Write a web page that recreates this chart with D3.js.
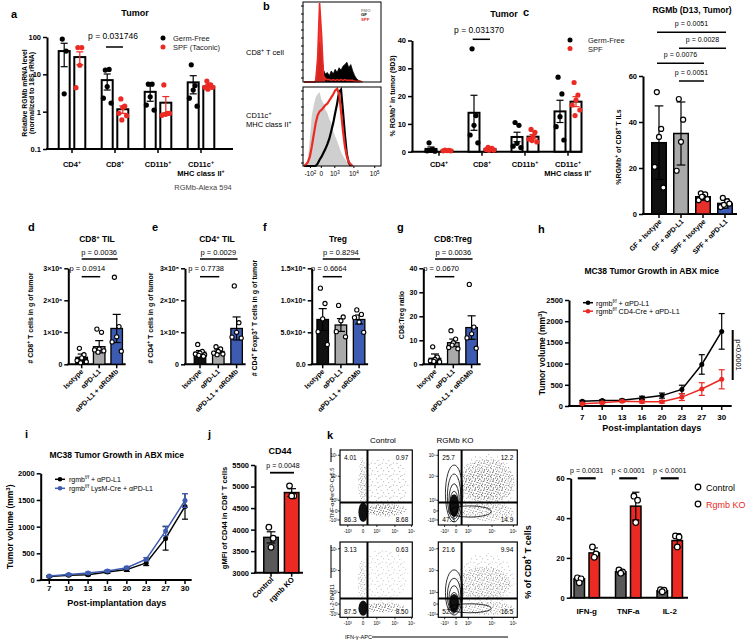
<!DOCTYPE html>
<html><head><meta charset="utf-8">
<script src="https://cdn.jsdelivr.net/npm/d3@7"></script>
<style>body{margin:0;background:#fff}svg{display:block}</style>
</head><body><svg id="fig" width="750" height="643"></svg>
<script>
// ---------------- DATA ----------------
// a
const aCats=["CD4{+}","CD8{+}","CD11b{+}","CD11c{+}"];
const aTickVals=[0.1,1,10,100];
const aTickLabels=["0.1","1","10","100"];
const aGFMean=[42,7.0,3.4,6.1];
const aGFErr=[26,3.2,1.5,3.1];
const aGFDots=[[88,42,3],[13,13.5,4.7,2.3,1.7],[5.5,5.5,2.5,1.5,1.1],[18,5,3.8,2.3,1.4]];
const aSPFMean=[29,1.16,1.74,4.7];
const aSPFErr=[11,0.26,0.8,0.7];
const aSPFDots=[[52,52,17.5,4.4],[2.2,1.4,1.3,0.9,0.78,0.6],[5.2,0.9,0.85,0.8,0.9],[6.6,5.2,5.2,4.5,4.5,4.0]];
// b histograms (relative counts per bin)
const histTopFMO=[0,0,0,0,0,0,5,40,60,55,20,5,2];
const histTopGF=[0,0,0,0,0,0,0,20,50,35,15,10,12,8,14,10,16,12,18,15,20,22,25,18,22,14,8,4,2,1];
const histTopSPF=[0,0,0,0,0,0,1,30,100,60,8,4,3,3,2,3,2,3,2,3,2,3,2,2,2,2,1,1,1,1,0];
const histBotFMO=[0,2,10,35,65,78,88,92,95,85,80,72,68,60,55,45,38,32,25,18,13,9,5,2,0];
const histBotGF=[0,0,0,0,0,0,0,3,8,12,17,22,28,35,45,55,68,80,95,98,70,40,15,4,0];
const histBotSPF=[0,2,5,12,25,40,55,65,70,72,75,78,80,84,88,92,97,99,93,70,45,25,12,5,2,0];
const histTicks=["-10{2}","0","10{3}","10{4}","10{5}"];
// b right
const bTicks=[0,10,20,30,40];
const bGFMean=[1.0,14,5.3,14.5];
const bGFErr=[0.7,6.3,1.7,4];
const bGFDots=[[3.2,0.8,0.5,0.3,0.2],[37,13,9.5,6,3.2],[10.5,9.5,3,2,1.5],[26.8,20.8,12.6,9,4.2]];
const bSPFMean=[0.4,1.0,5.4,18];
const bSPFErr=[0.1,0.3,0.8,1.8];
const bSPFDots=[[0.6,0.5,0.4,0.3,0.3],[1.6,1.2,1.0,0.8,0.6,0.5],[8,7,5.5,4.5,3.5,4],[24.9,20.4,18.6,16.8,15,13]];
// c
const cCats=["GF + Isotype","GF + αPD-L1","SPF + Isotype","SPF + αPD-L1"];
const cTicks=[0,20,40,60];
const cMean=[31,35,7.5,4.6];
const cErr=[16,13.7,1.5,2];
const cDots=[[53,37,33.5,20.5,11.5],[50,41,31.4,18.8],[9,8.5,7.5,6,6.5,7.5],[7,5.5,3.5,3,4.5,4]];
const cSig=[[0,3,"p = 0.0051"],[1,3,"p = 0.0028"],[0,2,"p = 0.0076"],[1,2,"p = 0.0051"]];
// d-g
const tCats=["Isotype","αPD-L1","αPD-L1 + αRGMb"];
const dTicks=[0,1e6,2e6,3e6], dTickLabels=["0","1×10⁶","2×10⁶","3×10⁶"];
const dMean=[0.22e6,0.55e6,1.12e6];
const dErr=[0.1e6,0.19e6,0.44e6];
const dDots=[[0.5e6,0.3e6,0.2e6,0.12e6,0.08e6,0.05e6],[1.1e6,1.0e6,0.48e6,0.45e6,0.42e6,0.38e6],[2.72e6,1.18e6,0.86e6,0.7e6,0.41e6]];
const dSig=["p = 0.0036","p = 0.0914"];
const eTicks=[0,1e5,2e5,3e5], eTickLabels=["0","1×10⁵","2×10⁵","3×10⁵"];
const eMean=[0.38e5,0.4e5,1.12e5];
const eErr=[0.05e5,0.05e5,0.36e5];
const eDots=[[0.62e5,0.4e5,0.35e5,0.32e5,0.3e5,0.28e5,0.25e5],[0.55e5,0.48e5,0.4e5,0.35e5,0.32e5,0.3e5],[2.45e5,1.3e5,1.0e5,0.85e5,0.82e5]];
const eSig=["p = 0.0029","p = 0.7738"];
const fTicks=[0,5e4,1e5,1.5e5], fTickLabels=["0.0","5.0×10⁴","1.0×10⁵","1.5×10⁵"];
const fMean=[7.0e4,6.14e4,7.0e4];
const fErr=[1.7e4,1.0e4,0.7e4];
const fDots=[[11.9e4,9.5e4,7.1e4,5.1e4,3.1e4],[9.2e4,7.4e4,6.8e4,5.1e4,4.3e4],[8.5e4,7.8e4,6.6e4,7.3e4,5.0e4]];
const fSig=["p = 0.8294","p = 0.6664"];
const gTicks=[0,10,20,30,40], gTickLabels=["0","10","20","30","40"];
const gMean=[2.5,9.0,15.3];
const gErr=[1.8,1.5,4.9];
const gDots=[[7.3,3,2,1.5,1,1.2],[14,10.5,9,7,6.5,8],[33.3,15.5,12.7,11,6.7]];
const gSig=["p = 0.0036","p = 0.0670"];
// h, i
const days=[7,10,13,16,20,23,27,30];
const hTicks=[0,500,1000,1500,2000,2500];
const hCtrl=[110,130,135,190,245,390,980,1760];
const hCtrlErr=[20,20,25,40,60,100,230,420];
const hCre=[55,75,110,100,100,210,400,630];
const hCreErr=[15,20,20,30,30,80,150,225];
const iTicks=[0,500,1000,1500,2000];
const iCtrl=[65,90,100,150,195,320,780,1380];
const iCtrlErr=[15,15,20,25,35,50,220,240];
const iCre=[75,105,130,170,230,390,920,1490];
const iCreErr=[10,15,20,20,25,30,90,130];
// j
const jCats=["Control","rgmb KO"];
const jTicks=[3000,3500,4000,4500,5000,5500];
const jMean=[3820,4860];
const jErr=[130,90];
const jDots=[[4056,3800,3590],[5016,4783,4783]];
// k
const kCats=["IFN-g","TNF-a","IL-2"];
const kTicks=[0,20,40,60];
const kCtrlMean=[9.5,13,3.5], kCtrlErr=[1,1,0.5];
const kCtrlDots=[[10,9.5,7.5],[14,13,12.3],[4,3.8,3]];
const kKOMean=[22.5,46,28.7], kKOErr=[2.5,7,3.5];
const kKODots=[[25.5,22,20.3],[51,49,37.8],[31,30.5,25.5]];
const kP=["p = 0.0031","p < 0.0001","p < 0.0001"];
const flowQuads=[["4.01","0.97","86.3","8.68"],["25.7","12.2","47.3","14.9"],["3.13","0.63","87.5","8.50"],["21.6","9.94","52.0","16.5"]];
const flowTicks=["-10³","0","10³","10⁴","10⁵"];

// ---------------- HELPERS ----------------
const FF='"Liberation Sans", Arial, Helvetica, sans-serif';
const RED='#ec2a24', BLUE='#3d5bb0', LGRAY='#a9a9a9', DGRAY='#595959';
const svg=d3.select('#fig');
svg.append('rect').attr('width',750).attr('height',643).attr('fill','#fff');

function T(g,x,y,s,o={}){
  const size=o.size||7.5;
  const t=g.append('text').attr('x',x).attr('y',y).attr('font-family',FF)
    .attr('font-size',size).attr('font-weight',o.bold?'bold':'normal')
    .attr('text-anchor',o.anchor||'start').attr('fill',o.fill||'#000');
  if(o.rotate) t.attr('transform',`rotate(${o.rotate},${x},${y})`);
  let up=false;
  String(s).split(/(\{[^}]*\})/).forEach(p=>{
    if(!p) return;
    if(p[0]==='{'){ t.append('tspan').attr('dy',-size*0.38).attr('font-size',size*0.7).text(p.slice(1,-1)); up=true; }
    else { const ts=t.append('tspan').text(p); if(up){ ts.attr('dy',size*0.38); up=false; } }
  });
  return t;
}
function yAxis(g,x,y,vals,labels,o={}){
  const ts=o.ts??4;
  const ax=d3.axisLeft(y).tickValues(vals).tickFormat((d,i)=>labels[i]).tickSize(ts).tickSizeOuter(0);
  const a=g.append('g').attr('transform',`translate(${x},0)`).call(ax)
    .attr('font-family',FF).attr('font-size',o.fs||7.5).attr('font-weight','bold');
  a.select('.domain').attr('stroke-width',o.sw||2).attr('stroke','#000');
  a.selectAll('.tick line').attr('stroke-width',o.tw||1.5);
  a.selectAll('.tick text').attr('x',-ts-2);
  return a;
}
function xBase(g,x0,x1,yy,ticks,sw=2){
  g.append('line').attr('x1',x0-1).attr('x2',x1).attr('y1',yy).attr('y2',yy).attr('stroke','#000').attr('stroke-width',sw);
  ticks.forEach(t=>g.append('line').attr('x1',t).attr('x2',t).attr('y1',yy).attr('y2',yy+4).attr('stroke','#000').attr('stroke-width',1.5));
}
function L(g,x1,y1,x2,y2,c='#000',w=1.5){
  return g.append('line').attr('x1',x1).attr('y1',y1).attr('x2',x2).attr('y2',y2).attr('stroke',c).attr('stroke-width',w);
}
const JIT=[-0.5,0.5,0,-1,1,-0.25,0.75];
function barSet(g,y,cx,w,mean,err,dots,st){
  const b=y.domain()[0];
  g.append('rect').attr('x',cx-w/2).attr('y',y(mean)).attr('width',w).attr('height',y(b)-y(mean))
    .attr('fill',st.fill).attr('stroke','#000').attr('stroke-width',st.sw||1.5);
  const lo=Math.max(mean-err,b);
  const ec=st.ec||'#000', ew=st.ew||1.2, cw=w*(st.cap||0.32);
  L(g,cx,y(mean+err),cx,y(lo),ec,ew);
  L(g,cx-cw,y(mean+err),cx+cw,y(mean+err),ec,ew);
  if(mean-err>b) L(g,cx-cw,y(mean-err),cx+cw,y(mean-err),ec,ew);
  dots.forEach((v,i)=>g.append('circle').attr('cx',cx+JIT[i%JIT.length]*w*(st.jit||0.35)).attr('cy',y(v))
    .attr('r',st.r||2.4).attr('fill',st.dfill).attr('stroke',st.dstroke||'none').attr('stroke-width',st.dsw||1));
}

// ---------------- PANEL LETTERS ----------------
[["a",11,18],["b",263,10],["c",523,16],["d",28,231],["e",152,231],["f",263,231],["g",397,231],["h",538,233],["i",25,438],["j",208,438],["k",327,439]]
 .forEach(p=>T(svg,p[1],p[2],p[0],{bold:true,size:11}));

// ---------------- PANEL a ----------------
(function(){
  const g=svg.append('g');
  const y=d3.scaleLog().domain([0.1,100]).range([149,37]);
  const x=d3.scaleBand().domain(aCats).range([50.5,222.5]);
  const C=c=>x(c)+x.bandwidth()/2;
  yAxis(g,47,y,aTickVals,aTickLabels,{fs:7.5});
  xBase(g,47,233,149,aCats.map(C));
  aCats.forEach((c,i)=>{
    barSet(g,y,C(c)-7.8,11,aGFMean[i],aGFErr[i],aGFDots[i],{fill:'#fff',sw:2,ec:'#000',dfill:'#000',r:2.6});
    barSet(g,y,C(c)+7.8,11,aSPFMean[i],aSPFErr[i],aSPFDots[i],{fill:'#fff',sw:2,ec:RED,dfill:RED,r:2.6});
    T(g,C(c),166.5,c,{anchor:'middle',bold:true,size:7.5});
  });
  T(g,C(aCats[3]),176,"MHC class II{+}",{anchor:'middle',bold:true,size:7.5});
  T(g,203,190,"RGMb-Alexa 594",{anchor:'middle',size:7.5,fill:'#444'});
  T(g,135,16,"Tumor",{anchor:'middle',bold:true,size:9});
  T(g,113,38.5,"p = 0.031746",{anchor:'middle',size:8.5});
  L(g,106,47,123,47,'#000',1.5);
  g.append('circle').attr('cx',163).attr('cy',38).attr('r',2.5).attr('fill','#000');
  g.append('circle').attr('cx',163).attr('cy',47).attr('r',2.5).attr('fill',RED);
  T(g,173,41,"Germ-Free",{size:7.5,fill:'#222'});
  T(g,173,50,"SPF (Taconic)",{size:7.5,fill:'#222'});
  T(g,26.5,93,"Relative RGMb mRNA level",{anchor:'middle',bold:true,size:6.8,rotate:-90});
  T(g,33.5,93,"(normalized to 18S rRNA)",{anchor:'middle',bold:true,size:6.8,rotate:-90});
})();

// ---------------- PANEL b histograms ----------------
(function(){
  const g=svg.append('g');
  const hx=d3.scaleLinear().domain([0,39]).range([304,380]);
  const yT=d3.scaleLinear().domain([0,100]).range([82,3]);
  const yB=d3.scaleLinear().domain([0,100]).range([166,88]);
  const area=(y,arr)=>d3.area().x((d,i)=>hx(i)).y0(y(0)).y1(d=>y(d)).curve(d3.curveLinear)(arr);
  const line=(y,arr)=>d3.line().x((d,i)=>hx(i)).y(d=>y(d)).curve(d3.curveLinear)(arr);
  g.append('path').attr('d',area(yT,histTopFMO)).attr('fill','#c9c9c9');
  g.append('path').attr('d',area(yT,histTopGF)).attr('fill','#000').attr('stroke','#000').attr('stroke-width',0.8);
  g.append('path').attr('d',line(yT,histTopSPF)).attr('fill','none').attr('stroke',RED).attr('stroke-width',1.6);
  g.append('path').attr('d',area(yT,histTopSPF.slice(0,12))).attr('fill',RED).attr('opacity',0.9);
  g.append('path').attr('d',area(yB,histBotFMO)).attr('fill','#cfcfcf');
  g.append('path').attr('d',line(yB,histBotGF)).attr('fill','none').attr('stroke','#000').attr('stroke-width',2.2);
  g.append('path').attr('d',line(yB,histBotSPF)).attr('fill','none').attr('stroke',RED).attr('stroke-width',2.2);
  [[2,82],[87,166]].forEach(r=>{
    g.append('rect').attr('x',303).attr('y',r[0]).attr('width',78).attr('height',r[1]-r[0]).attr('fill','none').attr('stroke','#000').attr('stroke-width',1);
    for(let yy=r[0]+4;yy<r[1];yy+=8) L(g,301,yy,303.5,yy,'#000',1);
  });
  const tickPos=[3.3,8.9,15.8,25.6,36.3];
  histTicks.forEach((t,i)=>{ L(g,hx(tickPos[i]),166,hx(tickPos[i]),168,'#000',1); T(g,hx(tickPos[i]),176,t,{anchor:'middle',size:6.5}); });
  T(g,361,11.5,"FMO",{size:4.3,bold:true,fill:'#999'});
  T(g,361,16.3,"GF",{size:4.3,bold:true,fill:'#000'});
  T(g,361,21.1,"SPF",{size:4.3,bold:true,fill:RED});
  T(g,246,55,"CD8{+} T cell",{size:7.5});
  T(g,246,118,"CD11c{+}",{size:7.5});
  T(g,246,127,"MHC class II{+}",{size:7.5});
})();

// ---------------- PANEL b right ----------------
(function(){
  const g=svg.append('g');
  const y=d3.scaleLinear().domain([0,40]).range([151.7,40.5]);
  const x=d3.scaleBand().domain(aCats).range([417.5,589.5]);
  const C=c=>x(c)+x.bandwidth()/2;
  yAxis(g,412,y,bTicks,bTicks.map(String),{fs:7.5});
  xBase(g,412,582,151.7,aCats.map(C));
  aCats.forEach((c,i)=>{
    barSet(g,y,C(c)-8,11,bGFMean[i],bGFErr[i],bGFDots[i],{fill:'#fff',sw:2,ec:'#000',dfill:'#000',r:2.6});
    barSet(g,y,C(c)+8,11,bSPFMean[i],bSPFErr[i],bSPFDots[i],{fill:'#fff',sw:2,ec:RED,dfill:RED,r:2.6});
    T(g,C(c),166.5,c,{anchor:'middle',bold:true,size:7.5});
  });
  T(g,C(aCats[3]),176,"MHC class II{+}",{anchor:'middle',bold:true,size:7.5});
  T(g,504,16.5,"Tumor",{anchor:'middle',bold:true,size:9});
  T(g,479,32.7,"p = 0.031370",{anchor:'middle',size:8.5});
  L(g,472.7,39.3,490,39.3,'#000',1.5);
  g.append('circle').attr('cx',570).attr('cy',40).attr('r',2.5).attr('fill','#000');
  g.append('circle').attr('cx',570).attr('cy',48.5).attr('r',2.5).attr('fill',RED);
  T(g,588,43,"Germ-Free",{size:7.5,fill:'#222'});
  T(g,588,51.5,"SPF",{size:7.5,fill:'#222'});
  T(g,394.5,96,"% RGMb{+} in tumor (9D3)",{anchor:'middle',bold:true,size:7,rotate:-90});
})();

// ---------------- PANEL c ----------------
(function(){
  const g=svg.append('g');
  const y=d3.scaleLinear().domain([0,60]).range([214,76]);
  const x=d3.scaleBand().domain(cCats).range([648,736]);
  const C=c=>x(c)+x.bandwidth()/2;
  const fills=['#111',LGRAY,'#e8302a','#3b5bb5'];
  yAxis(g,643,y,cTicks,cTicks.map(String),{fs:7.5});
  xBase(g,643,737,214,cCats.map(C));
  cCats.forEach((c,i)=>{
    barSet(g,y,C(c),14.5,cMean[i],cErr[i],cDots[i],{fill:fills[i],sw:1.5,ec:'#000',dfill:'#fff',dstroke:'#000',dsw:1.2,r:2.5,cap:0.3,jit:0.3});
    T(g,C(c)+3,222,c,{anchor:'end',bold:true,size:7,rotate:-45});
  });
  const lineY=[32.3,48.3,63.3,81], labY=[26,41.5,57,74.5];
  cSig.forEach((s,k)=>{
    const x1=C(cCats[s[0]])-2, x2=C(cCats[s[1]])+1;
    L(g,x1,lineY[k],x2,lineY[k],'#000',1.5);
    T(g,(x1+x2)/2,labY[k],s[2],{anchor:'middle',size:7});
  });
  T(g,692,13.3,"RGMb (D13, Tumor)",{anchor:'middle',bold:true,size:8.5});
  T(g,620.5,147,"%RGMb{+} of CD8{+} T ILs",{anchor:'middle',bold:true,size:7,rotate:-90});
})();

// ---------------- PANELS d-g ----------------
function tilPanel(cfg){
  const g=svg.append('g');
  const y=d3.scaleLinear().domain([0,cfg.ymax]).range([364.3,268.3]);
  const x=d3.scaleBand().domain(tCats).range([cfg.first-cfg.step/2,cfg.first+cfg.step*2.5]);
  const C=c=>x(c)+x.bandwidth()/2;
  const fills=['#111',LGRAY,BLUE];
  yAxis(g,cfg.ax,y,cfg.ticks,cfg.labels,{fs:7});
  xBase(g,cfg.ax,C(tCats[2])+9,364.3,tCats.map(C));
  tCats.forEach((c,i)=>{
    barSet(g,y,C(c),11.5,cfg.mean[i],cfg.err[i],cfg.dots[i],{fill:fills[i],sw:1.3,ec:'#000',dfill:'#fff',dstroke:'#000',dsw:1.1,r:2.1,cap:0.35,jit:0.4});
    T(g,C(c)+2,372,c,{anchor:'end',bold:true,size:7,rotate:-45});
  });
  const c0=C(tCats[0]);
  L(g,c0,259,C(tCats[2])+1,259,'#000',1.5);
  T(g,(c0+C(tCats[2]))/2,255,cfg.sig[0],{anchor:'middle',size:7.5});
  L(g,c0,276.7,C(tCats[1])+1,276.7,'#000',1.5);
  T(g,(c0+C(tCats[1]))/2-3,270.7,cfg.sig[1],{anchor:'middle',size:7.5});
  T(g,cfg.tx,242,cfg.title,{anchor:'middle',bold:true,size:8.5});
  T(g,cfg.ylx,cfg.yly||318,cfg.ylab,{anchor:'middle',bold:true,size:7,rotate:-90});
}
tilPanel({ax:68.3,first:81.7,step:17.5,ymax:3e6,ticks:dTicks,labels:dTickLabels,mean:dMean,err:dErr,dots:dDots,sig:dSig,title:"CD8{+} TIL",tx:97,ylab:"# CD8{+} T cells in g of tumor",ylx:32.5});
tilPanel({ax:185,first:200,step:18.3,ymax:3e5,ticks:eTicks,labels:eTickLabels,mean:eMean,err:eErr,dots:eDots,sig:eSig,title:"CD4{+} TIL",tx:217,ylab:"# CD4{+} T cells in g of tumor",ylx:152.5});
tilPanel({ax:311.7,first:322.7,step:18.2,ymax:1.5e5,ticks:fTicks,labels:fTickLabels,mean:fMean,err:fErr,dots:fDots,sig:fSig,title:"Treg",tx:338,ylab:"# CD4{+} Foxp3{+} T cells in g of tumor",ylx:256.5});
tilPanel({ax:423.3,first:435,step:18.3,ymax:40,ticks:gTicks,labels:gTickLabels,mean:gMean,err:gErr,dots:gDots,sig:gSig,title:"CD8:Treg",tx:453,ylab:"CD8:Treg ratio",ylx:404,yly:315});

// ---------------- PANELS h, i ----------------
function growth(cfg){
  const g=svg.append('g');
  const x=d3.scalePoint().domain(days).range(cfg.xr);
  const y=d3.scaleLinear().domain([0,cfg.ticks[cfg.ticks.length-1]]).range(cfg.yr);
  yAxis(g,cfg.ax,y,cfg.ticks,cfg.ticks.map(String),{fs:7.5});
  xBase(g,cfg.ax,cfg.axEnd,cfg.yr[0],days.map(d=>x(d)));
  days.forEach(d=>T(g,x(d),cfg.yr[0]+cfg.lab,String(d),{anchor:'middle',bold:true,size:8}));
  cfg.series.forEach(s=>{
    s.v.forEach((v,i)=>{
      const xx=x(days[i]);
      L(g,xx,y(v+s.e[i]),xx,y(Math.max(0,v-s.e[i])),s.c,1.2);
      L(g,xx-3,y(v+s.e[i]),xx+3,y(v+s.e[i]),s.c,1.2);
      L(g,xx-3,y(Math.max(0,v-s.e[i])),xx+3,y(Math.max(0,v-s.e[i])),s.c,1.2);
    });
    g.append('path').datum(s.v).attr('d',d3.line().x((d,i)=>x(days[i])).y(d=>y(d))).attr('fill','none').attr('stroke',s.c).attr('stroke-width',1.5);
    s.v.forEach((v,i)=>g.append('circle').attr('cx',x(days[i])).attr('cy',y(v)).attr('r',2.5).attr('fill',s.c));
  });
  cfg.series.forEach((s,k)=>{
    const ly=cfg.leg[1]+k*cfg.leg[3];
    L(g,cfg.leg[0]-5,ly,cfg.leg[0]+5,ly,s.c,1.5);
    g.append('circle').attr('cx',cfg.leg[0]).attr('cy',ly).attr('r',2.3).attr('fill',s.c);
    T(g,cfg.leg[2],ly+2.8,s.name,{size:cfg.legSize});
  });
  T(g,cfg.tx,cfg.ty,"MC38 Tumor Growth in ABX mice",{anchor:'middle',bold:true,size:8.5});
  T(g,cfg.tx,cfg.xty,"Post-implantation days",{anchor:'middle',bold:true,size:9});
  T(g,cfg.ylx,cfg.yly,"Tumor volume (mm{3})",{anchor:'middle',bold:true,size:8.5,rotate:-90});
  return g;
}
(function(){
  const g=growth({xr:[582.3,721.7],yr:[406,300],ax:569,axEnd:731.7,ticks:hTicks,lab:14,
    series:[{v:hCtrl,e:hCtrlErr,c:'#000',name:"rgmb{f/f} + αPD-L1"},{v:hCre,e:hCreErr,c:RED,name:"rgmb{f/f} CD4-Cre + αPD-L1"}],
    leg:[588,302.7,596,8.5],legSize:7.2,tx:651.7,ty:274.3,xty:431,ylx:545,yly:353});
  L(g,732.7,330,732.7,380,'#000',2);
  T(g,736,355,"p<0.0001",{anchor:'middle',size:7.5,rotate:90});
})();
growth({xr:[49.3,185],yr:[580,473.3],ax:40.7,axEnd:191.7,ticks:iTicks,lab:10.5,
  series:[{v:iCtrl,e:iCtrlErr,c:'#000',name:"rgmb{f/f} + αPD-L1"},{v:iCre,e:iCreErr,c:BLUE,name:"rgmb{f/f} LysM-Cre + αPD-L1"}],
  leg:[60,479.3,69,9],legSize:7,tx:116.7,ty:458.3,xty:606,ylx:13,yly:526.7});

// ---------------- PANEL j ----------------
(function(){
  const g=svg.append('g');
  const y=d3.scaleLinear().domain([3000,5500]).range([572.7,465]);
  const x=d3.scaleBand().domain(jCats).range([260.7,302]);
  const C=c=>x(c)+x.bandwidth()/2;
  yAxis(g,255,y,jTicks,jTicks.map(String),{fs:7.5});
  xBase(g,255,303,572.7,jCats.map(C));
  const fills=[DGRAY,RED];
  jCats.forEach((c,i)=>{
    barSet(g,y,C(c),14.5,jMean[i],jErr[i],jDots[i],{fill:fills[i],sw:1.5,ec:'#000',dfill:'#fff',dstroke:'#000',dsw:1.2,r:2.8,cap:0.3,jit:0.3});
    T(g,C(c)+3,580,c,{anchor:'end',bold:true,size:7.5,rotate:-45});
  });
  L(g,270,472.7,294,472.7,'#000',1.8);
  T(g,283,467.7,"p = 0.0048",{anchor:'middle',size:7});
  T(g,280,454,"CD44",{anchor:'middle',bold:true,size:9});
  T(g,226.5,518,"gMFI of CD44 in CD8{+} T cells",{anchor:'middle',bold:true,size:7.5,rotate:-90});
})();

// ---------------- PANEL k flow ----------------
(function(){
  const g=svg.append('g');
  const defs=svg.append('defs');
  const p1=defs.append('pattern').attr('id','spk').attr('width',9).attr('height',9).attr('patternUnits','userSpaceOnUse');
  [[0.6,0.9],[2.7,2.1],[1.5,3.4],[5.2,0.7],[7.6,1.8],[4.1,3.9],[6.8,4.6],[0.9,5.6],[3.0,6.3],[5.6,6.9],[8.1,7.4],[1.9,8.2],[4.5,8.5],[7.2,3.1]]
    .forEach(d=>p1.append('circle').attr('cx',d[0]).attr('cy',d[1]).attr('r',0.5).attr('fill','#555'));
  const p2=defs.append('pattern').attr('id','spk2').attr('width',11).attr('height',11).attr('patternUnits','userSpaceOnUse');
  [[1,1.5],[4.6,3.2],[2.5,5.8],[8.3,0.9],[7.1,6.4],[9.6,8.8],[3.8,9.4],[6,2.2]]
    .forEach(d=>p2.append('circle').attr('cx',d[0]).attr('cy',d[1]).attr('r',0.5).attr('fill','#666'));
  const boxes=[{x0:340,x1:412.3,y0:450,y1:525,gx:0.38,gy:0.30,xt:[0.107,0.32,0.51,0.76,0.99]},
               {x0:438.3,x1:517.3,y0:450,y1:525,gx:0.295,gy:0.30,xt:[0.08,0.225,0.38,0.68,0.95]},
               {x0:340,x1:412.3,y0:542,y1:617.3,gx:0.38,gy:0.25,xt:[0.107,0.32,0.51,0.76,0.99]},
               {x0:438.3,x1:517.3,y0:542,y1:617.3,gx:0.295,gy:0.25,xt:[0.08,0.225,0.38,0.68,0.95]}];
  const ytTop=[0.067,0.187,0.33,0.65,0.93], ytBot=[0.04,0.175,0.33,0.62,0.91];
  const clouds=[
    [[0.6,0.55,0.35,0.35,'spk2',0.7],[0.63,0.2,0.3,0.085,'spk',1],[0.58,0.2,0.2,0.06,'spk',0.8],[0.31,0.55,0.055,0.35,'spk',0.75]],
    [[0.62,0.58,0.34,0.3,'spk',0.9],[0.58,0.55,0.25,0.2,'spk',0.7],[0.6,0.55,0.37,0.4,'spk2',0.7],[0.63,0.17,0.33,0.12,'spk',0.85]],
    [[0.6,0.55,0.35,0.35,'spk2',0.5],[0.6,0.13,0.3,0.065,'spk',1],[0.55,0.13,0.18,0.05,'spk',0.8],[0.3,0.45,0.05,0.3,'spk',0.6]],
    [[0.58,0.45,0.33,0.22,'spk',0.8],[0.6,0.5,0.37,0.35,'spk2',0.6],[0.63,0.12,0.33,0.09,'spk',0.85]]];
  const blobs=[[0.32,0.17,0.065,0.13],[0.2,0.26,0.06,0.15],[0.32,0.12,0.065,0.1],[0.2,0.19,0.06,0.12]];
  const contours=[[],
    [[0.2,0.42,0.11,0.38],[0.2,0.38,0.085,0.3],[0.2,0.33,0.065,0.22],[0.2,0.3,0.05,0.15],[0.4,0.18,0.27,0.075]],
    [],
    [[0.2,0.33,0.11,0.3],[0.2,0.29,0.085,0.23],[0.2,0.25,0.065,0.17],[0.2,0.22,0.05,0.11],[0.4,0.12,0.27,0.06]]];
  boxes.forEach((b,k)=>{
    const sx=d3.scaleLinear().domain([0,1]).range([b.x0,b.x1]);
    const sy=d3.scaleLinear().domain([0,1]).range([b.y1,b.y0]);
    const cid='clipk'+k;
    defs.append('clipPath').attr('id',cid).append('rect').attr('x',b.x0).attr('y',b.y0).attr('width',b.x1-b.x0).attr('height',b.y1-b.y0);
    const pg=g.append('g').attr('clip-path',`url(#${cid})`);
    clouds[k].forEach(c=>pg.append('ellipse').attr('cx',sx(c[0])).attr('cy',sy(c[1])).attr('rx',sx(c[2])-sx(0)).attr('ry',sy(0)-sy(c[3]))
      .attr('fill',`url(#${c[4]})`).attr('opacity',c[5]));
    const bl=blobs[k];
    pg.append('ellipse').attr('cx',sx(bl[0])).attr('cy',sy(bl[1])).attr('rx',sx(bl[2])-sx(0)).attr('ry',sy(0)-sy(bl[3])).attr('fill','#111');
    contours[k].forEach(c=>pg.append('ellipse').attr('cx',sx(c[0])).attr('cy',sy(c[1])).attr('rx',sx(c[2])-sx(0)).attr('ry',sy(0)-sy(c[3]))
      .attr('fill','none').attr('stroke','#000').attr('stroke-width',0.8));
    g.append('rect').attr('x',b.x0).attr('y',b.y0).attr('width',b.x1-b.x0).attr('height',b.y1-b.y0).attr('fill','none').attr('stroke','#000').attr('stroke-width',1.2);
    L(g,sx(b.gx),b.y0,sx(b.gx),b.y1,'#000',2);
    L(g,b.x0,sy(b.gy),b.x1,sy(b.gy),'#000',2);
    const q=flowQuads[k];
    T(g,b.x0+4,b.y0+9.5,q[0],{size:6.5});
    T(g,b.x1-4,b.y0+9.5,q[1],{size:6.5,anchor:'end'});
    T(g,b.x0+4,b.y1-3,q[2],{size:6.5});
    T(g,b.x1-4,b.y1-3,q[3],{size:6.5,anchor:'end'});
    const yt=k<2?ytTop:ytBot;
    flowTicks.forEach((t,i)=>{
      L(g,b.x0-2,sy(yt[i]),b.x0,sy(yt[i]),'#000',0.8);
      T(g,b.x0-2.5,sy(yt[i])+1.8,t,{size:4.6,anchor:'end'});
      L(g,sx(b.xt[i]),b.y1,sx(b.xt[i]),b.y1+2,'#000',0.8);
      T(g,sx(b.xt[i]),b.y1+7.5,t,{size:4.6,anchor:'middle'});
    });
  });
  T(g,383,443,"Control",{anchor:'middle',size:8});
  T(g,455,443,"RGMb KO",{anchor:'middle',size:8});
  L(g,331,448,331,462,'#000',1);
  T(g,334,493,"TNF-α-PerCP-Cy5.5",{anchor:'middle',size:5.6,rotate:-90});
  L(g,331,545,331,578,'#000',1);
  T(g,334,598,"IL-2-BV711",{anchor:'middle',size:5.6,rotate:-90});
  T(g,345,639,"IFN-γ-APC",{size:5.6});
  L(g,372,637,508,637,'#000',1);
})();

// ---------------- PANEL k bars ----------------
(function(){
  const g=svg.append('g');
  const y=d3.scaleLinear().domain([0,60]).range([597.7,478.3]);
  const x=d3.scaleBand().domain(kCats).range([566,690.5]);
  const C=c=>x(c)+x.bandwidth()/2;
  yAxis(g,570.7,y,kTicks,kTicks.map(String),{fs:7.5});
  xBase(g,570.7,688,597.7,[]);
  kCats.forEach((c,i)=>{
    barSet(g,y,C(c)-7.5,10.5,kCtrlMean[i],kCtrlErr[i],kCtrlDots[i],{fill:DGRAY,sw:1.5,ec:'#000',dfill:'#fff',dstroke:'#000',dsw:1.2,r:2.8,cap:0.35,jit:0.35});
    barSet(g,y,C(c)+7.5,10.5,kKOMean[i],kKOErr[i],kKODots[i],{fill:RED,sw:1.5,ec:'#000',dfill:'#fff',dstroke:'#000',dsw:1.2,r:2.8,cap:0.35,jit:0.35});
    T(g,C(c),614,c,{anchor:'middle',bold:true,size:8});
    L(g,C(c)-9,478.3,C(c)+9,478.3,'#000',2.2);
    T(g,C(c),472.7,kP[i],{anchor:'middle',size:7});
  });
  g.append('circle').attr('cx',698).attr('cy',487).attr('r',2.8).attr('fill','#fff').attr('stroke','#000').attr('stroke-width',1.2);
  g.append('circle').attr('cx',698).attr('cy',504).attr('r',2.8).attr('fill','#fff').attr('stroke','#000').attr('stroke-width',1.2);
  T(g,706,490.5,"Control",{size:9});
  T(g,706,507.5,"Rgmb KO",{size:9,fill:RED});
  T(g,530.5,562,"% of CD8{+} T cells",{anchor:'middle',bold:true,size:9,rotate:-90});
})();
</script>
</body></html>
